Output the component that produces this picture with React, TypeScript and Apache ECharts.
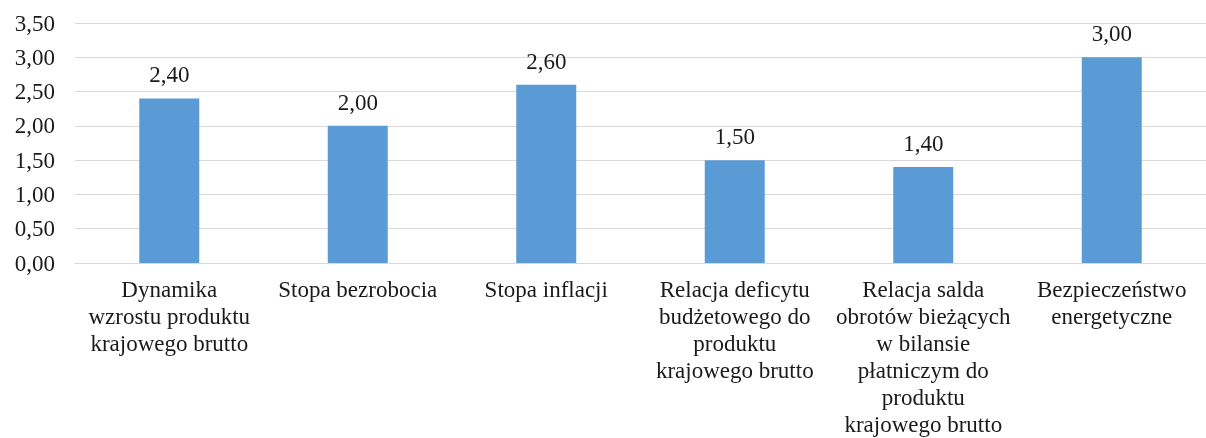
import React, { useEffect, useRef } from "react";
import * as echarts from "echarts";

const categories = [
  "Dynamika\nwzrostu produktu\nkrajowego brutto",
  "Stopa bezrobocia",
  "Stopa inflacji",
  "Relacja deficytu\nbudżetowego do\nproduktu\nkrajowego brutto",
  "Relacja salda\nobrotów bieżących\nw bilansie\npłatniczym do\nproduktu\nkrajowego brutto",
  "Bezpieczeństwo\nenergetyczne",
];
const values = [2.4, 2.0, 2.6, 1.5, 1.4, 3.0];
const yMin = 0;
const yMax = 3.5;
const yInterval = 0.5;

const fmt = (v: number) => v.toFixed(2).replace(".", ",");

export default function App() {
  const ref = useRef<HTMLDivElement>(null);
  useEffect(() => {
    if (!ref.current) return;
    const chart = echarts.init(ref.current, null, { renderer: "svg" });
    const font = "Liberation Serif";
    chart.setOption({
      animation: false,
      textStyle: { fontFamily: font },
      grid: { left: 75, width: 1140, top: 23, bottom: 170, containLabel: false },
      xAxis: {
        type: "category",
        data: categories,
        axisLine: { lineStyle: { color: "#D9D9D9", width: 1 } },
        axisTick: { show: false },
        axisLabel: {
          interval: 0,
          color: "#1a1a1a",
          fontFamily: font,
          fontSize: 23,
          lineHeight: 27,
          margin: 13,
        },
      },
      yAxis: {
        type: "value",
        min: yMin,
        max: yMax,
        interval: yInterval,
        axisLine: { show: false },
        axisTick: { show: false },
        splitLine: { lineStyle: { color: "#D9D9D9", width: 1 } },
        axisLabel: {
          color: "#1a1a1a",
          fontFamily: font,
          fontSize: 23,
          margin: 20,
          formatter: (v: number) => fmt(v),
        },
      },
      series: [
        {
          type: "bar",
          data: values,
          barWidth: 60,
          itemStyle: { color: "#5B9BD5" },
          label: {
            show: true,
            position: "top",
            distance: 12,
            color: "#1a1a1a",
            fontFamily: font,
            fontSize: 23,
            formatter: (p: any) => fmt(p.value),
          },
        },
      ],
    });
    return () => chart.dispose();
  }, []);
  return (
    <div
      ref={ref}
      style={{ position: "fixed", left: 0, top: 0, width: 1206, height: 438 }}
    />
  );
}
